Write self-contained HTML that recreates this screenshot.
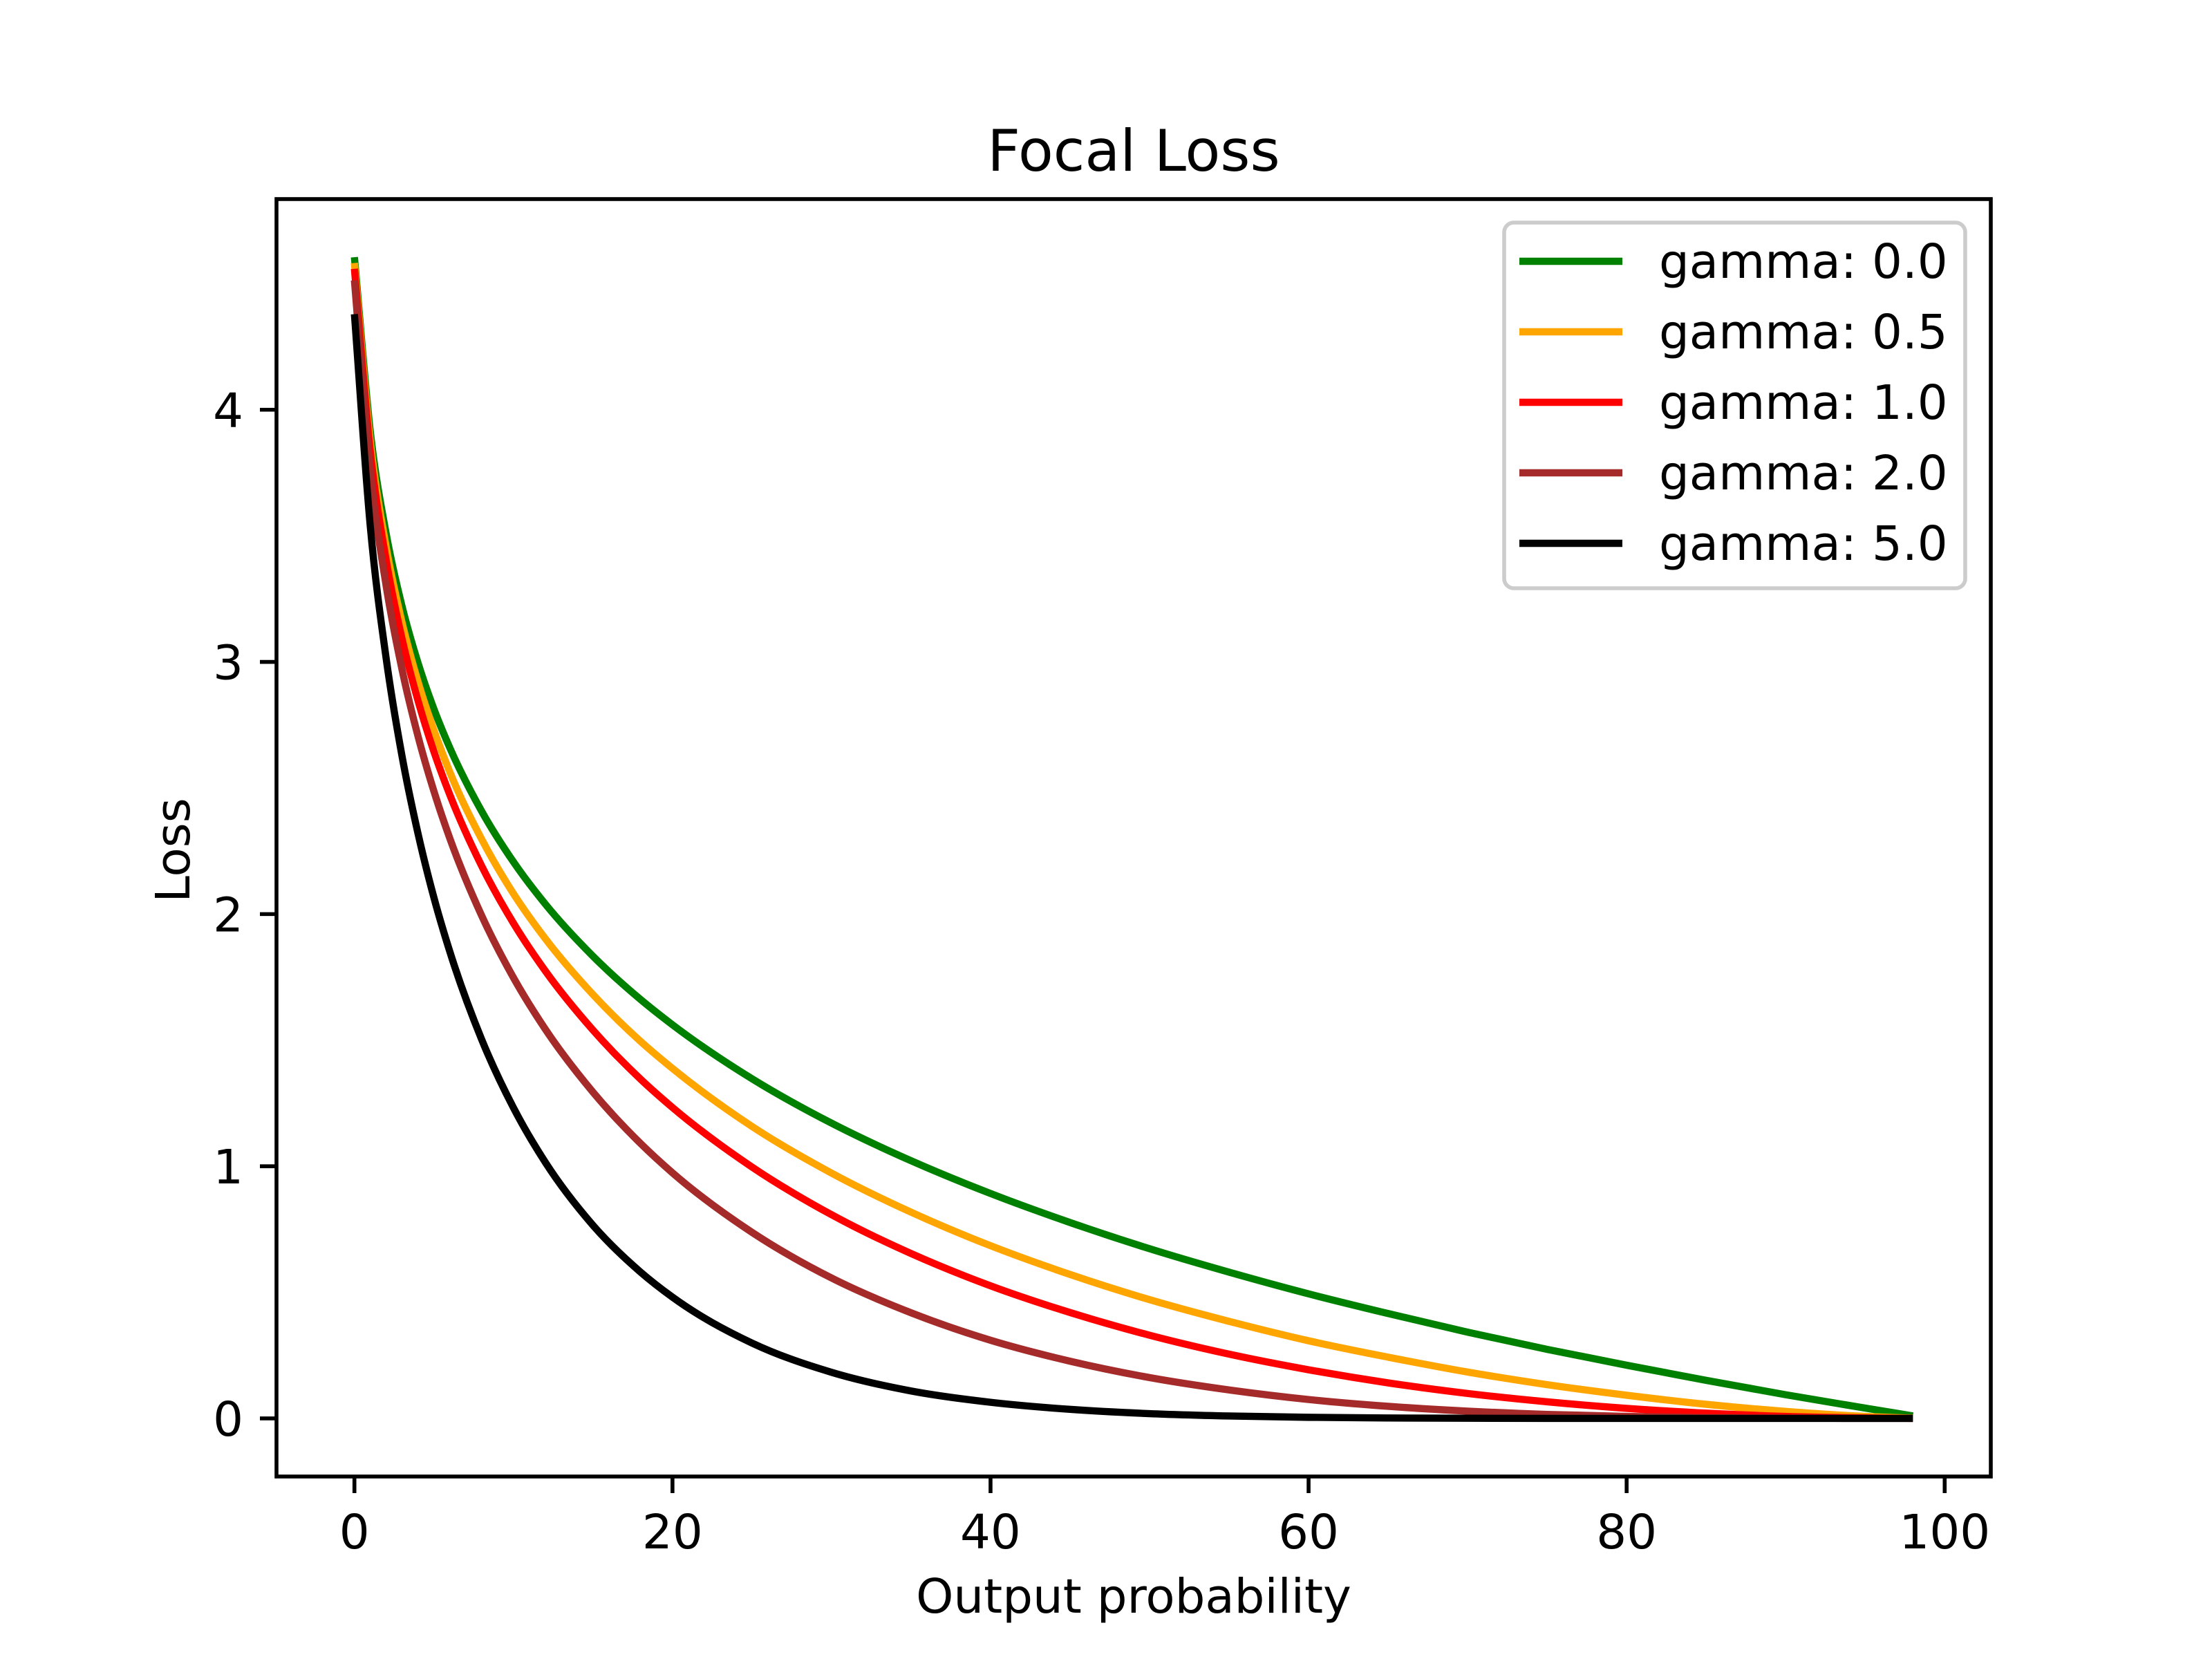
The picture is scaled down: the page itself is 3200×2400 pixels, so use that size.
<!DOCTYPE html>
<html><head><meta charset="utf-8"><style>
html,body{margin:0;padding:0;background:#fff}
svg{display:block}
text{font-family:"DejaVu Sans","Liberation Sans",sans-serif;fill:#000}
</style></head><body>
<svg id="chart" width="3200" height="2400" viewBox="0 0 3200 2400" xmlns="http://www.w3.org/2000/svg">
<rect width="3200" height="2400" fill="#fff"/>
<text x="1640" y="247" font-size="83" text-anchor="middle">Focal Loss</text>
<g id="plot"></g>
<rect x="400" y="288" width="2480" height="1848" fill="none" stroke="#000" stroke-width="5.6"/>
<text x="1640" y="2333" font-size="69" text-anchor="middle">Output probability</text>
<text transform="translate(274,1230) rotate(-90)" font-size="69" text-anchor="middle">Loss</text>
<g id="legend"></g>
</svg>
<script>
const xs = [0,1,2,3,4,5,6,8,10,12,15,18,20,25,30,35,40,45,50,55,60,65,70,75,80,85,90,95,98];
const gammaLabels = ["gamma: 0.0","gamma: 0.5","gamma: 1.0","gamma: 2.0","gamma: 5.0"];
const colors = ["green","orange","red","brown","black"];
const lossG0 = [4.605,3.912,3.507,3.219,2.996,2.813,2.659,2.408,2.207,2.040,1.833,1.661,1.561,1.347,1.171,1.022,0.892,0.777,0.673,0.580,0.494,0.416,0.342,0.274,0.211,0.151,0.094,0.041,0.010];
const lossG05 = [4.582,3.873,3.454,3.155,2.921,2.729,2.563,2.297,2.081,1.903,1.681,1.495,1.388,1.158,0.973,0.818,0.685,0.571,0.471,0.385,0.308,0.243,0.184,0.134,0.092,0.056,0.028,0.008,0.001];
const lossG1 = [4.559,3.834,3.402,3.090,2.846,2.644,2.473,2.191,1.964,1.775,1.540,1.345,1.233,0.997,0.808,0.654,0.526,0.420,0.330,0.255,0.193,0.141,0.099,0.066,0.040,0.021,0.008,0.002,0.0001];
const lossG2 = [4.513,3.756,3.300,2.968,2.705,2.487,2.300,1.994,1.748,1.544,1.294,1.090,0.974,0.738,0.557,0.419,0.310,0.227,0.162,0.113,0.075,0.048,0.029,0.016,0.008,0.003,0.001,0.0001,0];
const lossG5 = [4.379,3.536,3.012,2.624,2.319,2.065,1.851,1.503,1.232,1.016,0.766,0.580,0.481,0.299,0.183,0.109,0.064,0.036,0.019,0.0096,0.0044,0.0019,0.0007,0.0002,0.00005,0,0,0,0];
const xTicks = [0,20,40,60,80,100];
const yTicks = [0,1,2,3,4];

const NS="http://www.w3.org/2000/svg";
function X(v){return 400+(v+4.9)*2480/107.8;}
function Y(v){return 2136-(v+0.2303)*1848/5.0657;}
const plot=document.getElementById('plot');
function mk(tag,attrs,parent){const e=document.createElementNS(NS,tag);for(const k in attrs)e.setAttribute(k,attrs[k]);parent.appendChild(e);return e;}

xTicks.forEach(t=>{
  const l=mk('line',{x1:X(t),x2:X(t),y1:2136,y2:2160,stroke:'#000','stroke-width':5.6},plot);
  
  
  const tx=mk('text',{x:X(t),y:2240,'font-size':69,'text-anchor':'middle'},plot);tx.textContent=t;
  
  
});
yTicks.forEach(t=>{
  const l=mk('line',{x1:376,x2:400,y1:Y(t),y2:Y(t),stroke:'#000','stroke-width':5.6},plot);
  
  
  const tx=mk('text',{x:352,y:Y(t)+25,'font-size':69,'text-anchor':'end'},plot);tx.textContent=t;
  
  
});

function pathFor(ys){
  const n=xs.length;
  const m=xs.map((x,i)=>{
    if(i===0) return (ys[1]-ys[0])/(xs[1]-xs[0]);
    if(i===n-1) return (ys[n-1]-ys[n-2])/(xs[n-1]-xs[n-2]);
    const h0=xs[i]-xs[i-1],h1=xs[i+1]-xs[i];
    const d0=(ys[i]-ys[i-1])/h0,d1=(ys[i+1]-ys[i])/h1;
    return (h1*d0+h0*d1)/(h0+h1);
  });
  let d='M'+X(xs[0])+','+Y(ys[0]);
  for(let i=0;i<n-1;i++){
    const h=xs[i+1]-xs[i];
    const c1x=xs[i]+h/3,c1y=ys[i]+m[i]*h/3;
    const c2x=xs[i+1]-h/3,c2y=ys[i+1]-m[i+1]*h/3;
    d+=' C'+X(c1x)+','+Y(c1y)+' '+X(c2x)+','+Y(c2y)+' '+X(xs[i+1])+','+Y(ys[i+1]);
  }
  return d;
}
const series=[lossG0,lossG05,lossG1,lossG2,lossG5];
series.forEach((s,i)=>{
  const p=mk('path',{d:pathFor(s),fill:'none',stroke:colors[i],'stroke-width':10.4,'stroke-linejoin':'round'},plot);
  
  
});

const lg=document.getElementById('legend');
const box=mk('rect',{x:2176,y:322,width:667,height:529,rx:14,fill:'#fff','fill-opacity':0.8,stroke:'#ccc','stroke-width':5.6},lg);


gammaLabels.forEach((lab,i)=>{
  const y=378+i*102;
  const l=mk('line',{x1:2198,x2:2347,y1:y,y2:y,stroke:colors[i],'stroke-width':10.4},lg);
  
  
  const t=mk('text',{x:2400,y:y+24,'font-size':69},lg);t.textContent=lab;
  
  
});
</script>
</body></html>
